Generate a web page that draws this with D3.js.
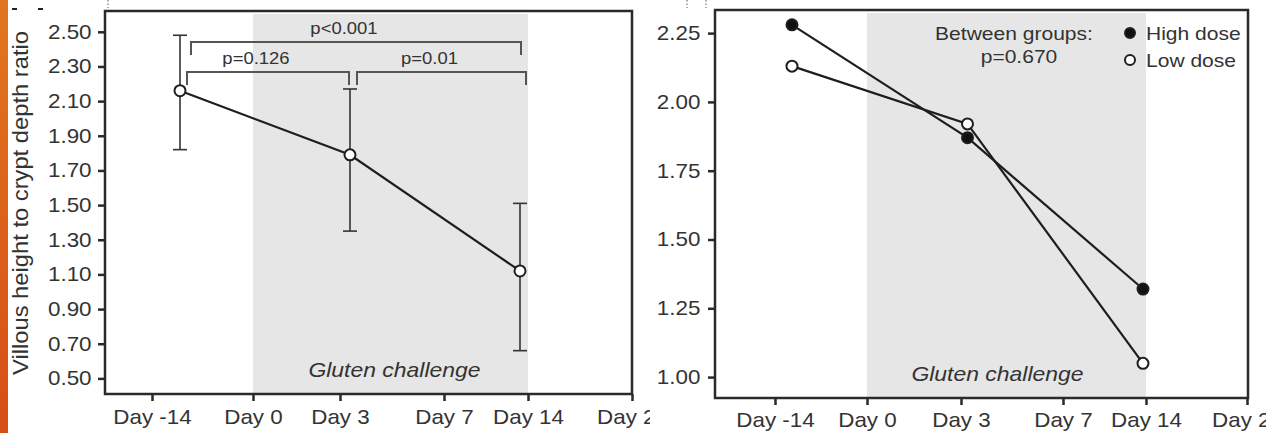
<!DOCTYPE html>
<html>
<head>
<meta charset="utf-8">
<script src="https://cdn.jsdelivr.net/npm/d3@7"></script>
<style>
    body { margin: 0; background: #fff; }
    svg text { font-family: 'Liberation Sans', Arial, Helvetica, sans-serif; fill: #333; }
</style>
</head>
<body>
<div id="chart"></div>
<script>
//Datos
const measureDays = ['Day -14', 'Day 3', 'Day 14'];
const tickDays = [-14, 0, 3, 7, 14, 21];
const tickLabels = ['Day -14', 'Day 0', 'Day 3', 'Day 7', 'Day 14', 'Day 21'];

//Panel izquierdo: todos los pacientes
const allMean = [2.16, 1.79, 1.12];
const allUpper = [2.48, 2.17, 1.51];
const allLower = [1.82, 1.35, 0.66];
const leftTicks = [0.50, 0.70, 0.90, 1.10, 1.30, 1.50, 1.70, 1.90, 2.10, 2.30, 2.50];
const comparisons = [
    { from: 0, to: 2, label: 'p<0.001', level: 1 },
    { from: 0, to: 1, label: 'p=0.126', level: 0 },
    { from: 1, to: 2, label: 'p=0.01', level: 0 }
];

//Panel derecho: por dosis
const highDose = [2.28, 1.87, 1.32];
const lowDose = [2.13, 1.92, 1.05];
const rightTicks = [1.00, 1.25, 1.50, 1.75, 2.00, 2.25];
const legendLabels = ['High dose', 'Low dose'];
const groupTest = ['Between groups:', 'p=0.670'];
const shadeLabel = 'Gluten challenge';
const yTitle = 'Villous height to crypt depth ratio';

//Estilos
const SX = 1.12;   // los textos del original son algo más anchos que Arial
const LINE = '#1e1e1e', FRAME = '#2a2a2a', SHADE = '#e6e6e6';

const W = 1266, H = 433;
let svg = d3.select('#chart').append('svg')
    .attr('width', W).attr('height', H);

//Barra naranja a la izquierda
let defs = svg.append('defs');
let grad = defs.append('linearGradient')
    .attr('id', 'orange').attr('x1', 0).attr('x2', 0).attr('y1', 0).attr('y2', 1);
grad.append('stop').attr('offset', '0%').attr('stop-color', '#e2761f');
grad.append('stop').attr('offset', '100%').attr('stop-color', '#d64e16');
svg.append('rect').attr('x', 0).attr('y', 0).attr('width', 8).attr('height', H).attr('fill', 'url(#orange)');

defs.append('clipPath').attr('id', 'clipLeft')
    .append('rect').attr('x', 0).attr('y', 0).attr('width', 650).attr('height', H);

//Restos del recorte del original
[[12, 9], [38, 9]].forEach(function(p) {
    svg.append('line').attr('x1', p[0]).attr('x2', p[0] + 5).attr('y1', p[1]).attr('y2', p[1])
        .attr('stroke', '#222').attr('stroke-width', 2);
});
[108, 687, 706].forEach(function(x) {
    svg.append('line').attr('x1', x).attr('x2', x).attr('y1', 0).attr('y2', 8)
        .attr('stroke', '#555').attr('stroke-width', 1).attr('stroke-dasharray', '1.5 2');
});

function stretchedText(g, x, y, txt, size, anchor) {
    return g.append('text')
        .attr('transform', 'translate(' + x + ',' + y + ') scale(' + SX + ',1)')
        .attr('text-anchor', anchor || 'middle')
        .style('font-size', size + 'px')
        .text(txt);
}

function drawPanel(p) {
    let g = svg.append('g');

    let x = d3.scaleLinear().domain(tickDays).range(p.tickPos);
    let xd = d3.scalePoint().domain(measureDays).range(p.dataRange);
    let y = d3.scaleLinear().domain(p.yDomain).range([p.y1, p.y0]);

    //Zona sombreada: provocación con gluten
    g.append('rect')
        .attr('x', x(0)).attr('y', p.y0 + 3)
        .attr('width', x(14) - x(0)).attr('height', p.y1 - p.y0 - 3)
        .attr('fill', SHADE);

    stretchedText(g, (x(0) + x(14)) / 2 + p.shadeDx, p.y1 - 17, shadeLabel, 20.5, 'middle')
        .style('font-style', 'italic');

    //Marco
    g.append('rect')
        .attr('x', p.x0).attr('y', p.y0)
        .attr('width', p.x1 - p.x0).attr('height', p.y1 - p.y0)
        .attr('fill', 'none').attr('stroke', FRAME).attr('stroke-width', 2.5);

    //Eje Y
    let yAxis = g.append('g')
        .attr('transform', 'translate(' + p.x0 + ',0)')
        .call(d3.axisLeft(y).tickValues(p.yTicks).tickFormat(d3.format('.2f')).tickSize(7).tickPadding(p.yPad));
    yAxis.select('.domain').remove();
    yAxis.selectAll('.tick line').attr('stroke', FRAME).attr('stroke-width', 2.5);
    yAxis.selectAll('.tick text').attr('transform', 'scale(' + SX + ',1)')
        .style('font-size', '20px').attr('fill', '#333').style('font-family', null);

    //Eje X
    let xWrap = g.append('g');
    if (p.clip) xWrap.attr('clip-path', 'url(#' + p.clip + ')');
    let xAxis = xWrap.append('g')
        .attr('transform', 'translate(0,' + p.y1 + ')')
        .call(d3.axisBottom(x).tickValues(tickDays).tickFormat(function(d, i) { return tickLabels[i]; })
            .tickSize(7).tickPadding(p.xPad));
    xAxis.select('.domain').remove();
    xAxis.selectAll('.tick line').attr('stroke', FRAME).attr('stroke-width', 2.5);
    xAxis.selectAll('.tick text').attr('transform', 'scale(' + SX + ',1)')
        .style('font-size', '20px').attr('fill', '#333').style('font-family', null);

    return { g: g, x: x, xd: xd, y: y };
}

//////
///// Panel izquierdo
//////
let left = drawPanel({
    x0: 105, x1: 632, y0: 11, y1: 394,
    tickPos: [152, 253, 340, 444, 528, 632],
    dataRange: [180, 520],
    yDomain: [0.41, 2.62], yTicks: leftTicks, yPad: 5, xPad: 9,
    shadeDx: 4, clip: 'clipLeft'
});

(function() {
    let g = left.g, xd = left.xd, y = left.y;
    let pts = measureDays.map(function(d, i) {
        return { day: d, mean: allMean[i], hi: allUpper[i], lo: allLower[i] };
    });

    //Barras de error
    let err = g.selectAll('.err').data(pts).enter().append('g').attr('class', 'err')
        .attr('stroke', '#333').attr('stroke-width', 1.6);
    err.append('line')
        .attr('x1', function(d) { return xd(d.day); }).attr('x2', function(d) { return xd(d.day); })
        .attr('y1', function(d) { return y(d.hi); }).attr('y2', function(d) { return y(d.lo); });
    ['hi', 'lo'].forEach(function(k) {
        err.append('line')
            .attr('x1', function(d) { return xd(d.day) - 7; }).attr('x2', function(d) { return xd(d.day) + 7; })
            .attr('y1', function(d) { return y(d[k]); }).attr('y2', function(d) { return y(d[k]); });
    });

    g.append('path').datum(pts)
        .attr('fill', 'none').attr('stroke', LINE).attr('stroke-width', 2.2)
        .attr('d', d3.line().x(function(d) { return xd(d.day); }).y(function(d) { return y(d.mean); }));

    g.selectAll('.pt').data(pts).enter().append('circle').attr('class', 'pt')
        .attr('cx', function(d) { return xd(d.day); })
        .attr('cy', function(d) { return y(d.mean); })
        .attr('r', 5.5).attr('fill', '#fff').attr('stroke', LINE).attr('stroke-width', 2);

    //Corchetes de comparación
    let inset = { '0-2': [11, 1], '0-1': [7, -1], '1-2': [7, 6] };
    comparisons.forEach(function(c) {
        let ins = inset[c.from + '-' + c.to];
        let xa = xd(measureDays[c.from]) + ins[0], xb = xd(measureDays[c.to]) + ins[1];
        let yb = 11 + (c.level == 1 ? 31 : 61);
        g.append('path')
            .attr('d', 'M' + xa + ',' + (yb + 13) + 'V' + yb + 'H' + xb + 'V' + (yb + 13))
            .attr('fill', 'none').attr('stroke', '#555').attr('stroke-width', 2);
        stretchedText(g, (xa + xb) / 2 - 12, yb - 8, c.label, 16.5, 'middle');
    });

    //Título del eje Y
    g.append('text')
        .attr('transform', 'translate(28,203) rotate(-90) scale(' + SX + ',1)')
        .attr('text-anchor', 'middle')
        .style('font-size', '21.2px')
        .text(yTitle);
})();

//////
///// Panel derecho
//////
let right = drawPanel({
    x0: 715, x1: 1248, y0: 10, y1: 398,
    tickPos: [775, 867, 961, 1063, 1146, 1247],
    dataRange: [792, 1143],
    yDomain: [0.924, 2.334], yTicks: rightTicks, yPad: 6, xPad: 8,
    shadeDx: -9, clip: null
});

(function() {
    let g = right.g, xd = right.xd, y = right.y;
    let series = [
        { name: legendLabels[0], values: highDose, fill: '#111' },
        { name: legendLabels[1], values: lowDose, fill: '#fff' }
    ];
    let line = d3.line().x(function(d) { return xd(d.day); }).y(function(d) { return y(d.v); });

    series.forEach(function(s) {
        let pts = measureDays.map(function(d, i) { return { day: d, v: s.values[i] }; });
        g.append('path').datum(pts)
            .attr('fill', 'none').attr('stroke', LINE).attr('stroke-width', 2.2)
            .attr('d', line);
        s.pts = pts;
    });
    series.forEach(function(s) {
        g.selectAll(null).data(s.pts).enter().append('circle')
            .attr('cx', function(d) { return xd(d.day); })
            .attr('cy', function(d) { return y(d.v); })
            .attr('r', 5.5).attr('fill', s.fill).attr('stroke', LINE).attr('stroke-width', 2);
    });

    //Leyenda
    series.forEach(function(s, i) {
        let ly = [33, 60][i];
        g.append('circle').attr('cx', 1130).attr('cy', ly).attr('r', 5)
            .attr('fill', s.fill).attr('stroke', LINE).attr('stroke-width', 2);
        stretchedText(g, 1146, ly + 7, s.name, 18.8, 'start');
    });

    stretchedText(g, 1014, 40, groupTest[0], 18.8, 'middle');
    stretchedText(g, 1019, 63, groupTest[1], 18.8, 'middle');
})();
</script>
</body>
</html>
